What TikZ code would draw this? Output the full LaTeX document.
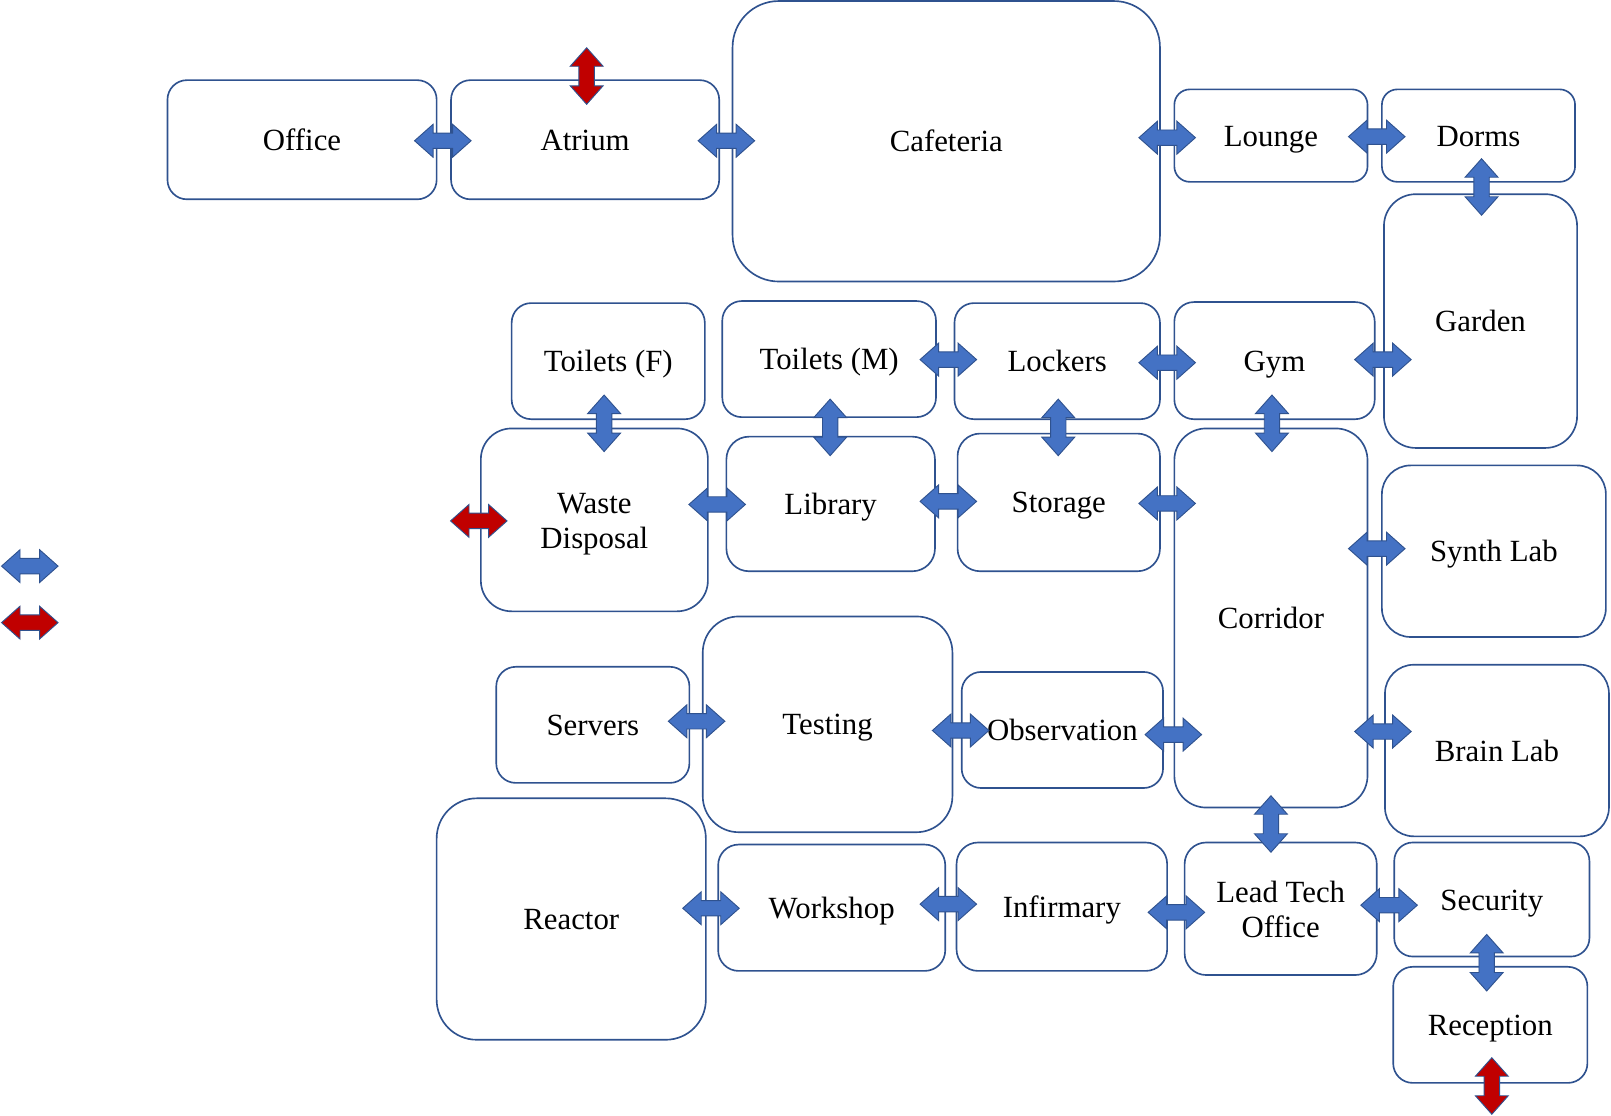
\documentclass[tikz,border=0pt]{standalone}
\usepackage{fontspec}
\setmainfont{Liberation Serif}
\definecolor{boxline}{HTML}{2F528F}
\definecolor{arrowblue}{HTML}{4472C4}
\definecolor{arrowred}{HTML}{C00000}
\tikzset{
  room/.style={draw=boxline, line width=1.6pt, fill=white, inner sep=0pt,
    align=center, font=\fontsize{30}{34}\selectfont},
  oneline/.style={text height=20.5pt, text depth=0pt},
  twoline/.style={text height=56pt, text depth=0pt},
  dblarrow/.pic={\path[pic actions] (-27.5,0) -- (-9.5,-16) -- (-9.5,-7.5) -- (9.5,-7.5) -- (9.5,-16)
     -- (27.5,0) -- (9.5,16) -- (9.5,7.5) -- (-9.5,7.5) -- (-9.5,16) -- cycle;},
  bluearrow/.style={fill=arrowblue, draw=boxline, line width=0.9pt, line join=miter},
  redarrow/.style={fill=arrowred, draw=boxline, line width=0.9pt, line join=miter},
}
\newcommand{\roomnode}[8]{%
  \node[room, #7, minimum width=#4pt, minimum height=#5pt, rounded corners=#6pt] (#1) at (#2,#3) {#8};}
\begin{document}
\begin{tikzpicture}[x=1pt,y=-1pt]
\useasboundingbox (0,0) rectangle (1568,1086);
% rooms
\roomnode{office}{294}{136}{262}{116}{19}{oneline}{Office}
\roomnode{atrium}{569.5}{136}{261}{116}{19}{oneline}{Atrium}
\roomnode{cafeteria}{921}{137.5}{416}{273}{45}{oneline}{Cafeteria}
\roomnode{lounge}{1237}{132}{188}{90}{15}{oneline}{Lounge}
\roomnode{dorms}{1439}{132}{188}{90}{15}{oneline}{Dorms}
\roomnode{garden}{1441}{312.5}{188}{247}{31}{oneline}{Garden}
\roomnode{toiletsF}{592}{351.5}{188}{113}{19}{oneline}{Toilets (F)}
\roomnode{toiletsM}{807}{349.5}{208}{113}{19}{oneline}{Toilets (M)}
\roomnode{lockers}{1029}{351.5}{200}{113}{19}{oneline}{Lockers}
\roomnode{gym}{1240.5}{351}{195}{114}{19}{oneline}{Gym}
\roomnode{waste}{578.5}{506}{221}{178}{30}{twoline}{Waste\\Disposal}
\roomnode{library}{808.5}{490.5}{203}{131}{22}{oneline}{Library}
\roomnode{storage}{1030.5}{489}{197}{134}{22}{oneline}{Storage}
\roomnode{corridor}{1237}{601.5}{188}{369}{31}{oneline}{Corridor}
\roomnode{synth}{1454}{536.5}{218}{167}{28}{oneline}{Synth Lab}
\roomnode{servers}{577}{705.5}{188}{113}{19}{oneline}{Servers}
\roomnode{testing}{805.5}{705}{243}{210}{35}{oneline}{Testing}
\roomnode{observation}{1034}{710.5}{196}{113}{19}{oneline}{Observation}
\roomnode{brain}{1457}{730.5}{218}{167}{28}{oneline}{Brain Lab}
\roomnode{reactor}{556}{894.5}{262}{235}{39}{oneline}{Reactor}
\roomnode{workshop}{809.5}{883.5}{221}{123}{20}{oneline}{Workshop}
\roomnode{infirmary}{1033.5}{882.5}{205}{125}{21}{oneline}{Infirmary}
\roomnode{leadtech}{1246.5}{884.5}{187}{129}{21}{twoline}{Lead Tech\\Office}
\roomnode{security}{1452}{875.5}{190}{111}{18}{oneline}{Security}
\roomnode{reception}{1450.5}{997.5}{189}{113}{19}{oneline}{Reception}
% connectors (block arrows)
\pic[bluearrow] (a1) at (431,137) {dblarrow};
\pic[redarrow, rotate=90] (a2) at (571,74) {dblarrow};
\pic[bluearrow] (a3) at (707,137) {dblarrow};
\pic[bluearrow] (a4) at (1136,134) {dblarrow};
\pic[bluearrow] (a5) at (1340,133) {dblarrow};
\pic[bluearrow, rotate=90] (a6) at (1442,182) {dblarrow};
\pic[bluearrow, rotate=90] (a7) at (588,412) {dblarrow};
\pic[bluearrow, rotate=90] (a8) at (808,416) {dblarrow};
\pic[bluearrow] (a9) at (923,350) {dblarrow};
\pic[bluearrow] (a10) at (1136,353) {dblarrow};
\pic[bluearrow] (a11) at (1346,350) {dblarrow};
\pic[bluearrow, rotate=90] (a12) at (1030,416) {dblarrow};
\pic[bluearrow, rotate=90] (a13) at (1238,412) {dblarrow};
\pic[redarrow] (a14) at (466,507) {dblarrow};
\pic[bluearrow] (a15) at (698,491) {dblarrow};
\pic[bluearrow] (a16) at (923,488) {dblarrow};
\pic[bluearrow] (a17) at (1136,490) {dblarrow};
\pic[bluearrow] (a18) at (1340,534) {dblarrow};
\pic[bluearrow] (a19) at (678,702) {dblarrow};
\pic[bluearrow] (a20) at (935,711) {dblarrow};
\pic[bluearrow] (a21) at (1142,715) {dblarrow};
\pic[bluearrow] (a22) at (1346,712) {dblarrow};
\pic[bluearrow, rotate=90] (a23) at (1237,802) {dblarrow};
\pic[bluearrow] (a24) at (692,884) {dblarrow};
\pic[bluearrow] (a25) at (923,880) {dblarrow};
\pic[bluearrow] (a26) at (1145,888) {dblarrow};
\pic[bluearrow] (a27) at (1352,881) {dblarrow};
\pic[bluearrow, rotate=90] (a28) at (1447,937) {dblarrow};
\pic[redarrow, rotate=90] (a29) at (1452,1057) {dblarrow};
% legend
\pic[bluearrow] (leg1) at (29,551) {dblarrow};
\pic[redarrow] (leg2) at (29,606) {dblarrow};
\end{tikzpicture}
\end{document}
